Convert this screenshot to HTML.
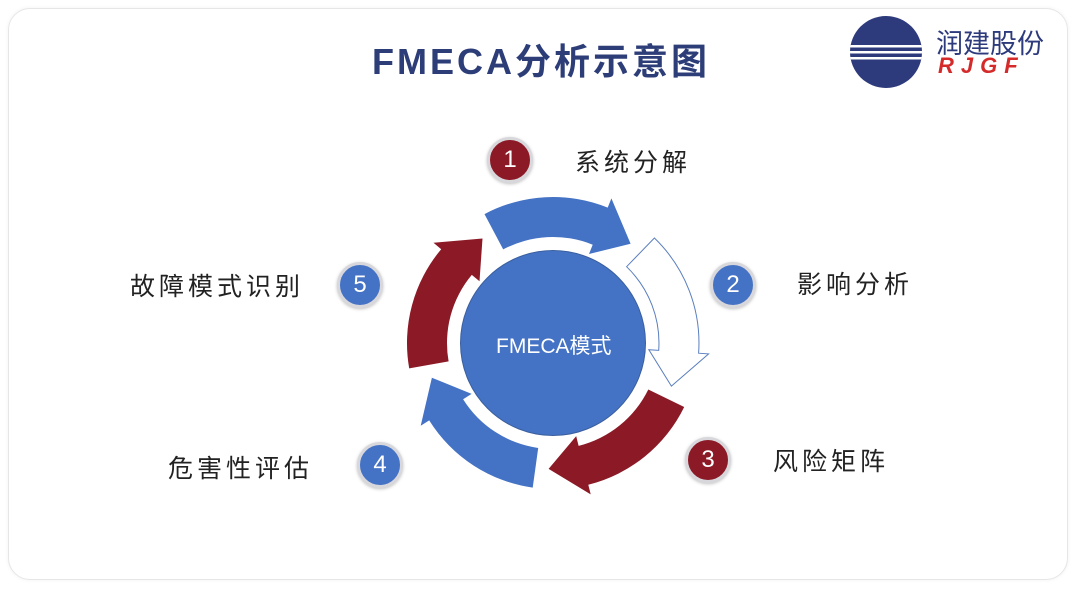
<!DOCTYPE html>
<html><head><meta charset="utf-8"><style>
html,body{margin:0;padding:0;background:#fff;}
body{width:1080px;height:594px;position:relative;overflow:hidden;font-family:"Liberation Sans","Noto Sans CJK SC",sans-serif;}
.card{position:absolute;left:8px;top:8px;width:1058px;height:570px;border:1px solid #e6e6e6;border-radius:22px;box-shadow:0 0 4px rgba(0,0,0,0.06);}
.t{position:absolute;white-space:nowrap;}
.badge{position:absolute;width:40px;height:40px;border-radius:50%;border:3px solid #d8d8dc;color:#fff;font-size:24px;text-align:center;line-height:40px;box-shadow:0 1px 3px rgba(0,0,0,0.25);}
.lbl{position:absolute;font-size:25px;color:#222;letter-spacing:4px;white-space:nowrap;}
</style></head><body>
<div class="card"></div>
<div class="t" style="left:372px;top:33px;font-size:36px;font-weight:bold;color:#2c3d78;letter-spacing:3px;">FMECA分析示意图</div>
<svg style="position:absolute;left:848px;top:16px" width="80" height="72">
<defs><clipPath id="c"><circle cx="38" cy="36" r="36"/></clipPath></defs>
<circle cx="38" cy="36" r="36" fill="#2d3a7c"/>
<g clip-path="url(#c)" fill="#fff"><rect x="0" y="29" width="80" height="2.5"/><rect x="0" y="35" width="80" height="2.5"/><rect x="0" y="41" width="80" height="2.5"/></g>
</svg>
<div class="t" style="left:936px;top:22px;font-size:27px;color:#2d3a7c;">润建股份</div>
<div class="t" style="left:938px;top:53px;font-size:22px;color:#d42a2a;font-weight:bold;font-style:italic;letter-spacing:7px;">RJGF</div>

<svg id="ring" style="position:absolute;left:0;top:0" width="1080" height="594"></svg>
<div style="position:absolute;left:460px;top:250px;width:186px;height:186px;border-radius:50%;background:#4472c4;border:1px solid #3a5f9f;box-sizing:border-box;"></div>
<div class="t" style="left:496px;top:330px;font-size:21px;color:#fff;">FMECA模式</div>

<div class="badge" style="left:487px;top:137px;background:#8b1a26;">1</div>
<div class="badge" style="left:710px;top:262px;background:#4472c4;">2</div>
<div class="badge" style="left:685px;top:437px;background:#8b1a26;">3</div>
<div class="badge" style="left:357px;top:442px;background:#4472c4;">4</div>
<div class="badge" style="left:337px;top:262px;background:#4472c4;">5</div>

<div class="lbl" style="left:575px;top:143px;">系统分解</div>
<div class="lbl" style="left:797px;top:265px;">影响分析</div>
<div class="lbl" style="left:773px;top:442px;">风险矩阵</div>
<div class="lbl" style="left:168px;top:449px;">危害性评估</div>
<div class="lbl" style="left:130px;top:267px;">故障模式识别</div>

<script>
(function(){
var cx=553,cy=343,ri=106,ro=146,hi=96,ho=156;
function P(r,a){var t=(a-90)*Math.PI/180;return (cx+r*Math.cos(t)).toFixed(1)+','+(cy+r*Math.sin(t)).toFixed(1);}
function arc(r,a0,a1,sw){return 'A'+r+','+r+' 0 0,'+sw+' '+P(r,a1);}
var segs=[['#4472c4',0],['none',1],['#8b1a26',2],['#4472c4',3],['#8b1a26',4]];
var h='';
segs.forEach(function(s){
 var a0=-28+72*s[1],a1=a0+66,ah=a1-16;
 var d='M'+P(ro,a0)+' '+arc(ro,a0,ah,1)+' L'+P(ho,ah)+' L'+P((ri+ro)/2,a1)+' L'+P(hi,ah)+' L'+P(ri,ah)+' '+arc(ri,ah,a0,0)+' Z';
 if(s[0]=='none') h+='<path d="'+d+'" fill="#fff" stroke="#5b7fbf" stroke-width="1"/>';
 else h+='<path d="'+d+'" fill="'+s[0]+'"/>';
});
document.getElementById('ring').innerHTML=h;
})();
</script>
</body></html>
